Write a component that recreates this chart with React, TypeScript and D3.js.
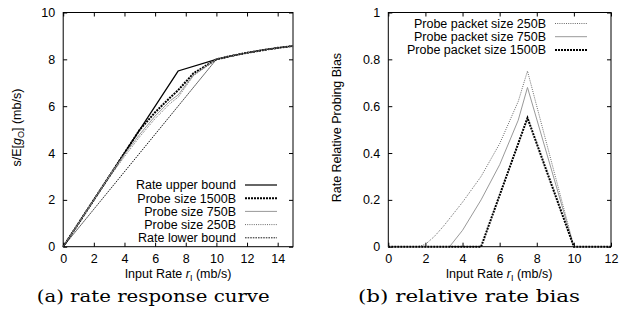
import { useEffect, useRef } from 'react';
import * as d3 from 'd3';

// left panel: rate response curve
const tailCurve: [number, number][] = [[10, 8], [11, 8.15], [12, 8.28], [13, 8.39], [14, 8.49], [15, 8.57]];
const upperBound: [number, number][] = [[0, 0], [7.5, 7.5], ...tailCurve];
const probe1500: [number, number][] = [[0, 0], [5, 5], [6, 5.74], [7, 6.38], [7.5, 6.68], [8.5, 7.4], ...tailCurve];
const probe750: [number, number][] = [[0, 0], [3.3, 3.3], [4, 3.94], [5, 4.8], [6, 5.58], [7, 6.24], [7.5, 6.48], [8.5, 7.33], ...tailCurve];
const probe250: [number, number][] = [[0, 0], [1.6, 1.6], [2, 2.0], [3, 2.95], [4, 3.85], [5, 4.7], [6, 5.47], [7, 6.13], [7.5, 6.38], [8.5, 7.3], ...tailCurve];
const lowerBound: [number, number][] = [[0, 0], ...tailCurve];

// right panel: relative rate bias
const bias250: [number, number][] = [[0, 0], [1.6, 0], [2, 0.01], [2.5, 0.045], [3, 0.09], [4, 0.19], [5, 0.3], [6, 0.44], [7, 0.62], [7.5, 0.75], [10, 0], [12, 0]];
const bias750: [number, number][] = [[0, 0], [3.3, 0], [4, 0.07], [5, 0.2], [6, 0.35], [7, 0.54], [7.5, 0.68], [10, 0], [12, 0]];
const bias1500: [number, number][] = [[0, 0], [5, 0], [7.5, 0.55], [10, 0], [12, 0]];

const leftXTicks = [0, 2, 4, 6, 8, 10, 12, 14];
const leftYTicks = [0, 2, 4, 6, 8, 10];
const rightXTicks = [0, 2, 4, 6, 8, 10, 12];
const rightYTicks = [0, 0.2, 0.4, 0.6, 0.8, 1];

const styles = {
  upper: { stroke: '#000', width: 1.2, dash: null },
  p1500: { stroke: '#000', width: 2, dash: '2,1' },
  p750: { stroke: '#999', width: 1, dash: null },
  p250: { stroke: '#444', width: 0.8, dash: '1,1.2' },
  lower: { stroke: '#000', width: 0.9, dash: '1.6,1' },
};

const leftSeries = [
  { name: 'Rate upper bound', data: upperBound, style: styles.upper },
  { name: 'Probe size 1500B', data: probe1500, style: styles.p1500 },
  { name: 'Probe size 750B', data: probe750, style: styles.p750 },
  { name: 'Probe size 250B', data: probe250, style: styles.p250 },
  { name: 'Rate lower bound', data: lowerBound, style: styles.lower },
];

const rightSeries = [
  { name: 'Probe packet size 250B', data: bias250, style: styles.p250 },
  { name: 'Probe packet size 750B', data: bias750, style: styles.p750 },
  { name: 'Probe packet size 1500B', data: bias1500, style: styles.p1500 },
];

const SANS = "'Liberation Sans', Arial, Helvetica, sans-serif";
const SERIF = "'DejaVu Serif', serif";
const FS = 12.5;

const App = () => {
  const svgRef = useRef<SVGSVGElement>(null);

  useEffect(() => {
    const svg = d3.select(svgRef.current);
    svg.selectAll('*').remove();

    const top = 12.5;
    const bottom = 246.7;

    const drawPanel = (opts: any) => {
      const { x, y, xTicks, yTicks, yFmt, series, legendX, legendY, xLabelX, yLabelX, yLabel, caption, captionX, captionW } = opts;
      const g = svg.append('g');
      const [x0, x1] = x.range();

      g.append('rect')
        .attr('x', x0).attr('y', top)
        .attr('width', x1 - x0).attr('height', bottom - top)
        .attr('fill', 'none').attr('stroke', '#000').attr('stroke-width', 1);

      const axB = g.append('g').attr('transform', `translate(0,${bottom})`)
        .call(d3.axisBottom(x).tickValues(xTicks).tickSize(-4).tickPadding(7).tickFormat((d: any) => String(d)));
      const axT = g.append('g').attr('transform', `translate(0,${top})`)
        .call(d3.axisTop(x).tickValues(xTicks).tickSize(-4).tickFormat(() => ''));
      const axL = g.append('g').attr('transform', `translate(${x0},0)`)
        .call(d3.axisLeft(y).tickValues(yTicks).tickSize(-4).tickPadding(8).tickFormat(yFmt));
      const axR = g.append('g').attr('transform', `translate(${x1},0)`)
        .call(d3.axisRight(y).tickValues(yTicks).tickSize(-4).tickFormat(() => ''));
      [axB, axT, axL, axR].forEach(a => {
        a.select('.domain').remove();
        a.selectAll('text').attr('font-family', SANS).attr('font-size', FS).attr('fill', '#000');
        a.selectAll('line').attr('stroke', '#000');
      });

      const line = d3.line<[number, number]>().x(d => x(d[0])).y(d => y(d[1]));
      series.forEach((s: any) => {
        g.append('path')
          .datum(s.data)
          .attr('d', line)
          .attr('fill', 'none')
          .attr('stroke', s.style.stroke)
          .attr('stroke-width', s.style.width)
          .attr('stroke-dasharray', s.style.dash);
      });

      // legend
      series.forEach((s: any, i: number) => {
        const cy = legendY + i * 13.2;
        g.append('text')
          .attr('x', legendX).attr('y', cy).attr('dy', '0.35em')
          .attr('text-anchor', 'end')
          .attr('font-family', SANS).attr('font-size', FS)
          .text(s.name);
        g.append('line')
          .attr('x1', legendX + 9).attr('x2', legendX + 41)
          .attr('y1', cy).attr('y2', cy)
          .attr('stroke', s.style.stroke)
          .attr('stroke-width', s.style.width)
          .attr('stroke-dasharray', s.style.dash);
      });

      // x label
      const xl = g.append('text')
        .attr('x', xLabelX).attr('y', 278)
        .attr('text-anchor', 'middle')
        .attr('font-family', SANS).attr('font-size', FS);
      xl.append('tspan').text('Input Rate ');
      xl.append('tspan').attr('font-style', 'italic').text('r');
      xl.append('tspan').attr('font-size', 9).attr('dy', 3).text('I');
      xl.append('tspan').attr('dy', -3).text(' (mb/s)');

      // y label
      const yl = g.append('text')
        .attr('transform', `translate(${yLabelX},${(top + bottom) / 2 - 2}) rotate(-90)`)
        .attr('text-anchor', 'middle')
        .attr('font-family', SANS).attr('font-size', FS);
      yLabel(yl);

      g.append('text')
        .attr('x', captionX).attr('y', 301.5)
        .attr('font-family', SERIF).attr('font-size', 17.5).attr('font-weight', 300)
        .attr('textLength', captionW).attr('lengthAdjust', 'spacingAndGlyphs')
        .text(caption);
    };

    drawPanel({
      x: d3.scaleLinear().domain([0, 15]).range([63.2, 293]),
      y: d3.scaleLinear().domain([0, 10]).range([bottom, top]),
      xTicks: leftXTicks,
      yTicks: leftYTicks,
      yFmt: (d: any) => String(d),
      series: leftSeries,
      legendX: 236,
      legendY: 185,
      xLabelX: 178,
      yLabelX: 21,
      yLabel: (t: any) => {
        t.append('tspan').text('s/E[');
        t.append('tspan').attr('font-style', 'italic').text('g');
        t.append('tspan').attr('font-size', 9).attr('dy', 3).text('O');
        t.append('tspan').attr('dy', -3).text('] (mb/s)');
      },
      caption: '(a) rate response curve',
      captionX: 36.7,
      captionW: 233,
    });

    drawPanel({
      x: d3.scaleLinear().domain([0, 12]).range([388.3, 611]),
      y: d3.scaleLinear().domain([0, 1]).range([bottom, top]),
      xTicks: rightXTicks,
      yTicks: rightYTicks,
      yFmt: (d: any) => String(d),
      series: rightSeries,
      legendX: 546,
      legendY: 23.5,
      xLabelX: 499,
      yLabelX: 341,
      yLabel: (t: any) => t.text('Rate Relative Probing Bias'),
      caption: '(b) relative rate bias',
      captionX: 358,
      captionW: 222,
    });
  }, []);

  return (
    <svg
      ref={svgRef}
      width={621}
      height={318}
      viewBox="0 0 621 318"
      style={{ position: 'absolute', left: 0, top: 0, background: '#fff' }}
    />
  );
};

export default App;
